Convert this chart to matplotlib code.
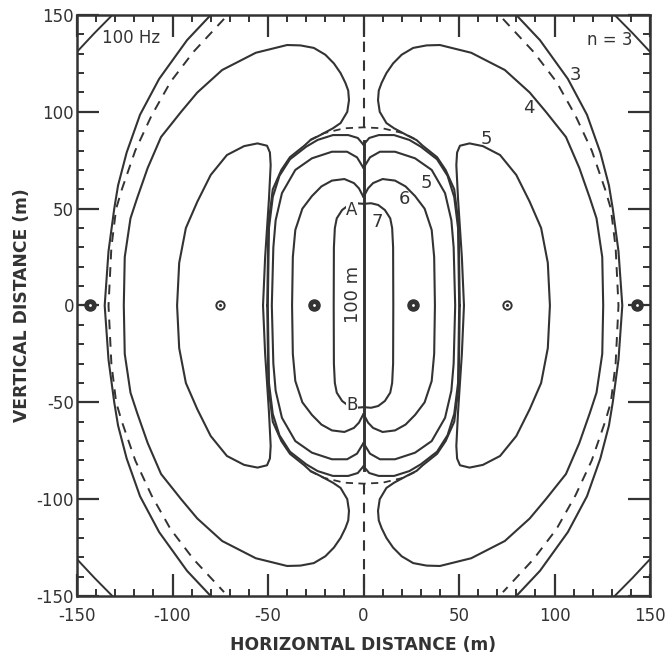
import numpy as np
import matplotlib.pyplot as plt
from matplotlib.ticker import MultipleLocator

plt.rcParams['axes.unicode_minus'] = False
ink = '#333333'

# contour traces, first quadrant only (x, y in m);
# the pattern is symmetric about both axes
q_c3 = [(80, 150), (92.4, 137), (107, 117), (117, 98.5), (124, 79), (128.5, 62),
        (130.5, 50), (133.5, 28), (135.5, 0)]
q_dash = [(73, 148), (89, 131), (101, 115.5), (111, 98), (119.5, 80), (126.5, 60),
          (129.5, 50), (132, 30), (133.5, 0)]
q_c4 = [(50.4, 0), (49.8, 42), (47.5, 60), (43, 70), (38.5, 76.6), (31, 82.5),
        (27.8, 85.4), (22.6, 88), (16, 91.5), (12, 94.2), (8.5, 100), (7.6, 106),
        (8, 111), (9.5, 115), (12, 120), (15.5, 125), (20, 129.5), (26, 133),
        (33, 134.3), (40, 134.5), (56.4, 130.5), (74, 121.6), (87, 110), (95.5, 100),
        (106, 87), (113, 71), (118.5, 55.5), (122, 45), (125, 25), (125.5, 0)]
q_c5bean = [(52.6, 0), (51.5, 25), (49.5, 55), (48.6, 72.5), (49, 79), (50.5, 82.5),
            (55.5, 83.7), (62.5, 82.3), (71.5, 77.7), (80, 67.4), (87, 53.6),
            (93, 40), (96.5, 22), (97.6, 0)]
q_c4arc = [(0, 83), (3, 86.5), (8, 88), (16, 88), (24, 85.5), (30, 82), (38.5, 75.5),
           (44, 67), (47.5, 56), (49.5, 40), (50.1, 0)]
q_c5arc = [(0, 71), (3.4, 76.5), (8.6, 79.4), (16.5, 79.4), (27, 76), (35.7, 70),
           (42.7, 58), (46, 44), (47.2, 30), (48, 0)]
q_c6 = [(0, 56), (2.4, 60.5), (5, 63.2), (10, 65.3), (16.5, 64.5), (22, 61.5),
        (27, 56.5), (32, 50), (35.7, 39), (37, 25), (37.4, 0)]
q_c7 = [(0, 52.5), (4, 52.8), (7.7, 51.9), (11.2, 49.3), (14, 45), (15, 40),
        (15.5, 30), (15.6, 0)]
q_dash_arc = [(0, 92), (10, 91.5), (20.7, 89), (28, 85.5)]
q_corner = [(150, 131), (141, 140.5), (131.5, 150)]

# source line A-B and the dashed axis beyond it
source_y = [-85, 85]
axis_dash_y = [92, 150]

# marker positions on y = 0
filled_x = [-143, -26, 26, 143]
open_x = [-75, 75]

contour_labels = [('3', 111, 119), ('4', 86.6, 102), ('5', 64.5, 86),
                  ('5', 33, 63.2), ('6', 21.2, 55), ('7', 7, 43.3)]


def half(q):
    # first-quadrant trace -> right half, top to bottom
    x = [p[0] for p in q]
    y = [p[1] for p in q]
    return np.array(x + x[::-1]), np.array(y + [-v for v in y[::-1]])


fig = plt.figure(figsize=(6.65, 6.57), dpi=100)
ax = fig.add_axes([77 / 665, 1 - 596 / 657, 573 / 665, 581 / 657])

for q in [q_c3, q_c4, q_c5bean, q_c4arc, q_c5arc, q_c6, q_c7]:
    x, y = half(q)
    for sx in (1, -1):
        ax.plot(sx * x, y, color=ink, lw=1.5, solid_capstyle='round')

x, y = half(q_dash)
for sx in (1, -1):
    ax.plot(sx * x, y, color=ink, lw=1.4, ls=(0, (5, 4)))

xa = np.array([p[0] for p in q_dash_arc])
ya = np.array([p[1] for p in q_dash_arc])
for sy in (1, -1):
    ax.plot(np.r_[-xa[::-1], xa], sy * np.r_[ya[::-1], ya], color=ink, lw=1.3,
            ls=(0, (4, 3)))
    ax.plot([0, 0], [sy * axis_dash_y[0], sy * axis_dash_y[1]], color=ink, lw=1.5,
            ls=(0, (5, 4)))

xc = np.array([p[0] for p in q_corner])
yc = np.array([p[1] for p in q_corner])
for sx in (1, -1):
    for sy in (1, -1):
        ax.plot(sx * xc, sy * yc, color=ink, lw=1.4)

ax.plot([0, 0], source_y, color=ink, lw=2.1)

ax.plot(filled_x, [0] * len(filled_x), 'o', ms=8, color=ink, zorder=5)
ax.plot(filled_x, [0] * len(filled_x), '.', ms=2, color='white', zorder=6)
ax.plot(open_x, [0] * len(open_x), 'o', ms=6, mfc='white', mec=ink, mew=1.4, zorder=5)
ax.plot(open_x, [0] * len(open_x), '.', ms=2.5, color=ink, zorder=6)

tfont = dict(color=ink, fontsize=13, ha='center', va='center')
for txt, lx, ly in contour_labels:
    ax.text(lx, ly, txt, **tfont)
ax.text(-6, 49.5, 'A', color=ink, fontsize=12, ha='center', va='center',
        bbox=dict(fc='white', ec='none', pad=0.3))
ax.text(-6, -51.5, 'B', color=ink, fontsize=12, ha='center', va='center',
        bbox=dict(fc='white', ec='none', pad=0.3))
ax.text(-5.5, 5.5, '100 m', color=ink, fontsize=13, rotation=90, ha='center',
        va='center', bbox=dict(fc='white', ec='none', pad=0.2))
ax.text(-137, 138, '100 Hz', color=ink, fontsize=12, ha='left', va='center')
ax.text(129, 137, 'n = 3', color=ink, fontsize=12, ha='center', va='center')

ax.set_xlim(-150, 150)
ax.set_ylim(-150, 150)
ax.set_xticks([-150, -100, -50, 0, 50, 100, 150])
ax.set_yticks([-150, -100, -50, 0, 50, 100, 150])
ax.xaxis.set_minor_locator(MultipleLocator(10))
ax.yaxis.set_minor_locator(MultipleLocator(10))
ax.tick_params(which='both', direction='in', top=True, right=True, colors=ink,
               labelsize=12)
ax.tick_params(which='major', length=16, width=1.6)
ax.tick_params(axis='x', which='major', pad=8)
ax.tick_params(axis='y', which='major', pad=2)
ax.tick_params(which='minor', length=5, width=1.4)
for s in ax.spines.values():
    s.set_linewidth(1.8)
    s.set_color(ink)

ax.set_xlabel('HORIZONTAL DISTANCE (m)', fontsize=12.3, fontweight='bold', color=ink,
              labelpad=8)
ax.set_ylabel('VERTICAL DISTANCE (m)', fontsize=12.3, fontweight='bold', color=ink,
              labelpad=4)

fig.savefig('out.png', dpi=100)
